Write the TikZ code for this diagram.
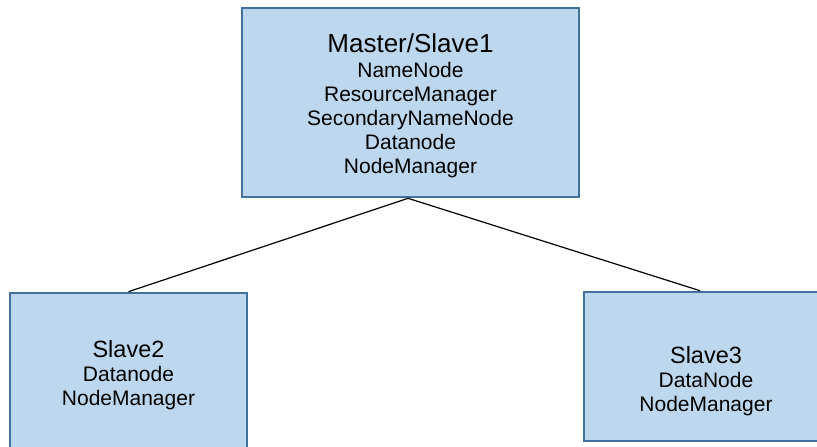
\documentclass[tikz,border=0pt]{standalone}
\usepackage{fontspec}
\setmainfont{Liberation Sans}

\definecolor{hostfill}{RGB}{189,215,238}
\definecolor{hostline}{RGB}{65,113,156}

\begin{document}
\begin{tikzpicture}[x=1pt, y=-1pt,
    host/.style={draw=hostline, line width=2.6pt, fill=hostfill, inner sep=0pt},
    hosttext/.style={align=center, inner sep=0pt, font=\fontsize{21}{24}\selectfont},
    link/.style={line width=1.2pt}]
  \newcommand\hostname[1]{{\fontsize{26}{26}\selectfont #1}}
  \newcommand\slavename[1]{{\fontsize{23.5}{24}\selectfont #1}}
  \useasboundingbox (0,0) rectangle (817,447);
  \clip (0,0) rectangle (817,447);

  % boxes
  \node[host, minimum width=337pt, minimum height=189pt] (master) at (410.5,102.5) {};
  \node[host, minimum width=237pt, minimum height=162pt] (slave2) at (128.5,374) {};
  \node[host, minimum width=238pt, minimum height=149pt] (slave3) at (703,366.5) {};

  % what runs on each host
  \node[hosttext] (master-jobs) at (410.5,105.3) {\hostname{Master/Slave1}\\[1pt]
    NameNode\\ResourceManager\\SecondaryNameNode\\Datanode\\NodeManager};
  \node[hosttext] (slave2-jobs) at (128.5,374.7) {\slavename{Slave2}\\Datanode\\NodeManager};
  \node[hosttext] (slave3-jobs) at (706,381) {\slavename{Slave3}\\DataNode\\NodeManager};

  \draw[link] ([xshift=-2.5pt]master.south) -- (slave2.north);
  \draw[link] ([xshift=-2.5pt]master.south) -- ([xshift=-3pt]slave3.north);
\end{tikzpicture}
\end{document}
